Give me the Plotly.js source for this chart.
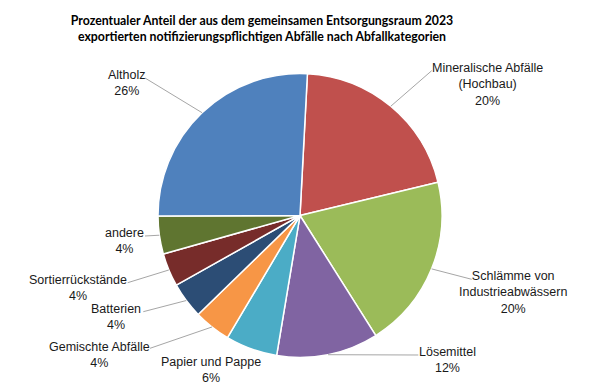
<!DOCTYPE html>
<html>
<head>
<meta charset="utf-8">
<script src="https://cdn.plot.ly/plotly-3.0.1.min.js"></script>
<style>html,body{margin:0;padding:0;background:#fff;}#chart{width:600px;height:388px;}</style>
</head>
<body>
<div id="chart"></div>
<script>
// ---- data ----
const categories = ['Mineralische Abfälle (Hochbau)', 'Schlämme von Industrieabwässern', 'Lösemittel', 'Papier und Pappe', 'Gemischte Abfälle', 'Batterien', 'Sortierrückstände', 'andere', 'Altholz'];
const labelLines = ['Mineralische Abfälle<br>(Hochbau)', 'Schlämme von<br>Industrieabwässern', 'Lösemittel', 'Papier und Pappe', 'Gemischte Abfälle', 'Batterien', 'Sortierrückstände', 'andere', 'Altholz'];
const shares = [20.4, 19.8, 11.6, 5.9, 4.2, 4.1, 3.8, 4.3, 25.9];
const colors = ['#C0504D', '#9BBB59', '#8064A2', '#4BACC6', '#F79646', '#2C4D75', '#772C2A', '#5F7530', '#4F81BD'];

// ---- layout config (pixels) ----
const W = 600, H = 388;
const CX = 300, CY = 215.5, R = 142, ROT = 3;
// label block centres
const labelPos = [[487, 84.2], [512.7, 292.3], [447.5, 360], [211, 370.3], [99.5, 354.5], [116, 316.7], [78, 287.5], [124, 241.2], [127, 82.5]];
// leader line ends (label side); null = no line
const leaderEnd = [[431.7, 70.7], [471.7, 279.3], [418.3, 355], null, [150, 348.3], [143.3, 311.7], [127.7, 282.7], [145, 236], [145, 78]];

const total = shares.reduce((a, b) => a + b, 0);
const px = x => x / W, py = y => 1 - y / H;

const annotations = [];
const shapes = [];
let acc = 0;
shares.forEach((v, i) => {
  const mid = (ROT + (acc + v / 2) / total * 360) * Math.PI / 180;
  acc += v;
  const ex = CX + R * Math.sin(mid), ey = CY - R * Math.cos(mid);
  const pct = Math.round(v / total * 100) + '%';
  annotations.push({
    xref: 'paper', yref: 'paper', x: px(labelPos[i][0]), y: py(labelPos[i][1]),
    xanchor: 'center', yanchor: 'middle', showarrow: false,
    text: labelLines[i] + '<br>' + pct,
    font: {family: 'Liberation Sans, Arial, sans-serif', size: 12.5, color: '#1a1a1a'}
  });
  if (leaderEnd[i]) {
    shapes.push({
      type: 'line', xref: 'paper', yref: 'paper', layer: 'above',
      x0: px(ex), y0: py(ey), x1: px(leaderEnd[i][0]), y1: py(leaderEnd[i][1]),
      line: {color: '#A6A6A6', width: 1}
    });
  }
});

const trace = {
  type: 'pie', values: shares, labels: categories, sort: false,
  direction: 'clockwise', rotation: ROT,
  marker: {colors: colors, line: {color: '#ffffff', width: 1.5}},
  textinfo: 'none', hoverinfo: 'label+percent',
  domain: {x: [px(CX - R), px(CX + R)], y: [py(CY + R), py(CY - R)]}
};

const layout = {
  width: W, height: H, margin: {l: 0, r: 0, t: 0, b: 0},
  paper_bgcolor: '#ffffff', showlegend: false,
  title: {
    text: 'Prozentualer Anteil der aus dem gemeinsamen Entsorgungsraum 2023<br>exportierten notifizierungspflichtigen Abfälle nach Abfallkategorien',
    x: 262 / W, xanchor: 'center', xref: 'paper',
    y: 1 - 25 / H, yanchor: 'middle', yref: 'container',
    font: {family: 'Lato, Carlito, Calibri, sans-serif', size: 12.3, color: '#000000', weight: 'bold'}
  },
  annotations: annotations,
  shapes: shapes
};

Plotly.newPlot('chart', [trace], layout, {displayModeBar: false, staticPlot: true});
</script>
</body>
</html>
